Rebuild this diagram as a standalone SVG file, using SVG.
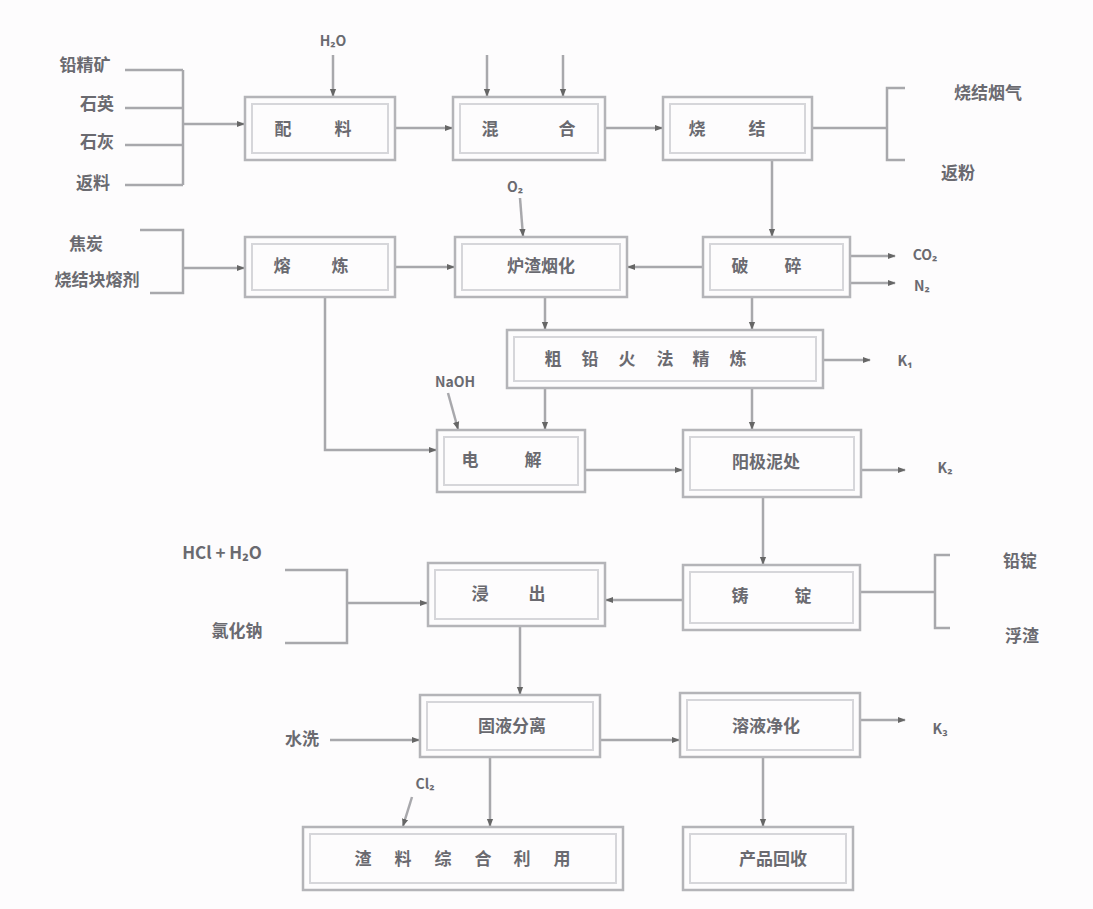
<svg xmlns="http://www.w3.org/2000/svg" width="1093" height="909" viewBox="0 0 1093 909">
<defs>
<marker id="ah" viewBox="0 0 10 10" refX="9" refY="5" markerWidth="8" markerHeight="8" orient="auto-start-reverse" markerUnits="userSpaceOnUse">
<path d="M0,1 L10,5 L0,9 z" fill="#666"/>
</marker>
<style>
.o{fill:none;stroke:#b4b4b8;stroke-width:2.5}
.i{fill:none;stroke:#d6d6da;stroke-width:2}
.t{font-family:"Noto Sans CJK SC","Noto Sans",sans-serif;font-size:17px;font-weight:bold;fill:#6a6a70;text-anchor:middle;dominant-baseline:middle}
.s{font-family:"Noto Sans CJK SC","Noto Sans",sans-serif;font-size:14px;font-weight:bold;fill:#6a6a70;text-anchor:middle;dominant-baseline:middle}
.c{fill:none;stroke:#a8a8ac;stroke-width:2.5}
.a{fill:none;stroke:#a8a8ac;stroke-width:2.5;marker-end:url(#ah)}
</style>
</defs>
<rect width="1093" height="909" fill="#fdfcfd"/>

<g id="connectors">
<path class="c" d="M125,70 H183 M125,108 H183 M125,145 H183 M125,185 H183 M183,70 V185"/>
<path class="a" d="M183,124 H244"/>
<path class="a" d="M333,55 V96"/>
<path class="a" d="M395,128 H452"/>
<path class="a" d="M487,55 V96"/>
<path class="a" d="M563,55 V96"/>
<path class="a" d="M605,128 H662"/>
<path class="c" d="M812,128 H887 M905,88 H887 V160 H905"/>
<path class="a" d="M772,160 V236"/>
<path class="c" d="M140,230 H183 V293 H150"/>
<path class="a" d="M183,268 H244"/>
<path class="a" d="M395,267 H454"/>
<path class="a" d="M520,198 L523,236"/>
<path class="a" d="M703,267 H628"/>
<path class="a" d="M850,256 H895"/>
<path class="a" d="M850,283 H895"/>
<path class="a" d="M545,297 V329"/>
<path class="a" d="M752,297 V329"/>
<path class="a" d="M823,360 H870"/>
<path class="a" d="M545,388 V429"/>
<path class="a" d="M752,388 V429"/>
<path class="a" d="M325,297 V450 H436"/>
<path class="a" d="M448,393 L458,429"/>
<path class="a" d="M585,470 H682"/>
<path class="a" d="M861,470 H905"/>
<path class="a" d="M763,497 V564"/>
<path class="a" d="M683,600 H606"/>
<path class="c" d="M860,592 H935 M950,555 H935 V628 H950"/>
<path class="c" d="M285,570 H347 V643 H285"/>
<path class="a" d="M347,603 H427"/>
<path class="a" d="M520,626 V694"/>
<path class="a" d="M330,740 H419"/>
<path class="a" d="M600,740 H679"/>
<path class="a" d="M860,720 H905"/>
<path class="a" d="M763,757 V826"/>
<path class="a" d="M490,757 V826"/>
<path class="a" d="M412,797 L403,826"/>
</g>

<g id="labels">
<text class="t" x="85" y="66">铅精矿</text>
<text class="t" x="97" y="105">石英</text>
<text class="t" x="97" y="143">石灰</text>
<text class="t" x="93" y="184">返料</text>
<text class="s" x="333" y="42">H₂O</text>
<text class="t" x="988" y="94">烧结烟气</text>
<text class="t" x="958" y="174">返粉</text>
<text class="t" x="86" y="245">焦炭</text>
<text class="t" x="97" y="281">烧结块熔剂</text>
<text class="s" x="515" y="188">O₂</text>
<text class="s" x="925" y="256">CO₂</text>
<text class="s" x="922" y="287">N₂</text>
<text class="s" x="905" y="362">K₁</text>
<text class="s" x="455" y="383">NaOH</text>
<text class="s" x="945" y="469">K₂</text>
<text class="t" x="1020" y="562">铅锭</text>
<text class="t" x="1022" y="637">浮渣</text>
<text class="t" x="222" y="554">HCl + H₂O</text>
<text class="t" x="237" y="632">氯化钠</text>
<text class="t" x="302" y="740">水洗</text>
<text class="s" x="425" y="785">Cl₂</text>
<text class="s" x="940" y="730">K₃</text>
</g>

<g id="n1"><rect class="o" x="245" y="97" width="150" height="63"/><rect class="i" x="252" y="104" width="136" height="49"/><text class="t" x="283" y="130">配</text><text class="t" x="343" y="130">料</text></g>
<g id="n2"><rect class="o" x="453" y="97" width="152" height="63"/><rect class="i" x="460" y="104" width="138" height="49"/><text class="t" x="490" y="130">混</text><text class="t" x="567" y="130">合</text></g>
<g id="n3"><rect class="o" x="663" y="97" width="149" height="63"/><rect class="i" x="670" y="104" width="135" height="49"/><text class="t" x="697" y="130">烧</text><text class="t" x="757" y="130">结</text></g>
<g id="n4"><rect class="o" x="245" y="237" width="150" height="60"/><rect class="i" x="252" y="244" width="136" height="46"/><text class="t" x="282" y="267">熔</text><text class="t" x="340" y="267">炼</text></g>
<g id="n5"><rect class="o" x="455" y="237" width="172" height="60"/><rect class="i" x="462" y="244" width="158" height="46"/><text class="t" x="541" y="267">炉渣烟化</text></g>
<g id="n6"><rect class="o" x="703" y="237" width="147" height="60"/><rect class="i" x="710" y="244" width="133" height="46"/><text class="t" x="740" y="267">破</text><text class="t" x="793" y="267">碎</text></g>
<g id="n7"><rect class="o" x="507" y="330" width="316" height="58"/><rect class="i" x="514" y="337" width="302" height="44"/><text class="t" x="553" y="360">粗</text><text class="t" x="590" y="360">铅</text><text class="t" x="627" y="360">火</text><text class="t" x="665" y="360">法</text><text class="t" x="701" y="360">精</text><text class="t" x="738" y="360">炼</text></g>
<g id="n8"><rect class="o" x="437" y="430" width="148" height="62"/><rect class="i" x="444" y="437" width="134" height="48"/><text class="t" x="470" y="461">电</text><text class="t" x="533" y="461">解</text></g>
<g id="n9"><rect class="o" x="683" y="430" width="178" height="67"/><rect class="i" x="690" y="437" width="164" height="53"/><text class="t" x="766" y="463">阳极泥处</text></g>
<g id="n10"><rect class="o" x="428" y="563" width="177" height="63"/><rect class="i" x="435" y="570" width="163" height="49"/><text class="t" x="480" y="595">浸</text><text class="t" x="537" y="595">出</text></g>
<g id="n11"><rect class="o" x="683" y="565" width="177" height="65"/><rect class="i" x="690" y="572" width="163" height="51"/><text class="t" x="740" y="597">铸</text><text class="t" x="803" y="597">锭</text></g>
<g id="n12"><rect class="o" x="420" y="695" width="180" height="62"/><rect class="i" x="427" y="702" width="166" height="48"/><text class="t" x="512" y="727">固液分离</text></g>
<g id="n13"><rect class="o" x="680" y="693" width="180" height="64"/><rect class="i" x="687" y="700" width="166" height="50"/><text class="t" x="766" y="727">溶液净化</text></g>
<g id="n14"><rect class="o" x="683" y="827" width="170" height="63"/><rect class="i" x="690" y="834" width="156" height="49"/><text class="t" x="773" y="860">产品回收</text></g>
<g id="n15"><rect class="o" x="303" y="827" width="320" height="63"/><rect class="i" x="310" y="834" width="306" height="49"/><text class="t" x="363" y="860">渣</text><text class="t" x="403" y="860">料</text><text class="t" x="443" y="860">综</text><text class="t" x="483" y="860">合</text><text class="t" x="522" y="860">利</text><text class="t" x="562" y="860">用</text></g>
</svg>
